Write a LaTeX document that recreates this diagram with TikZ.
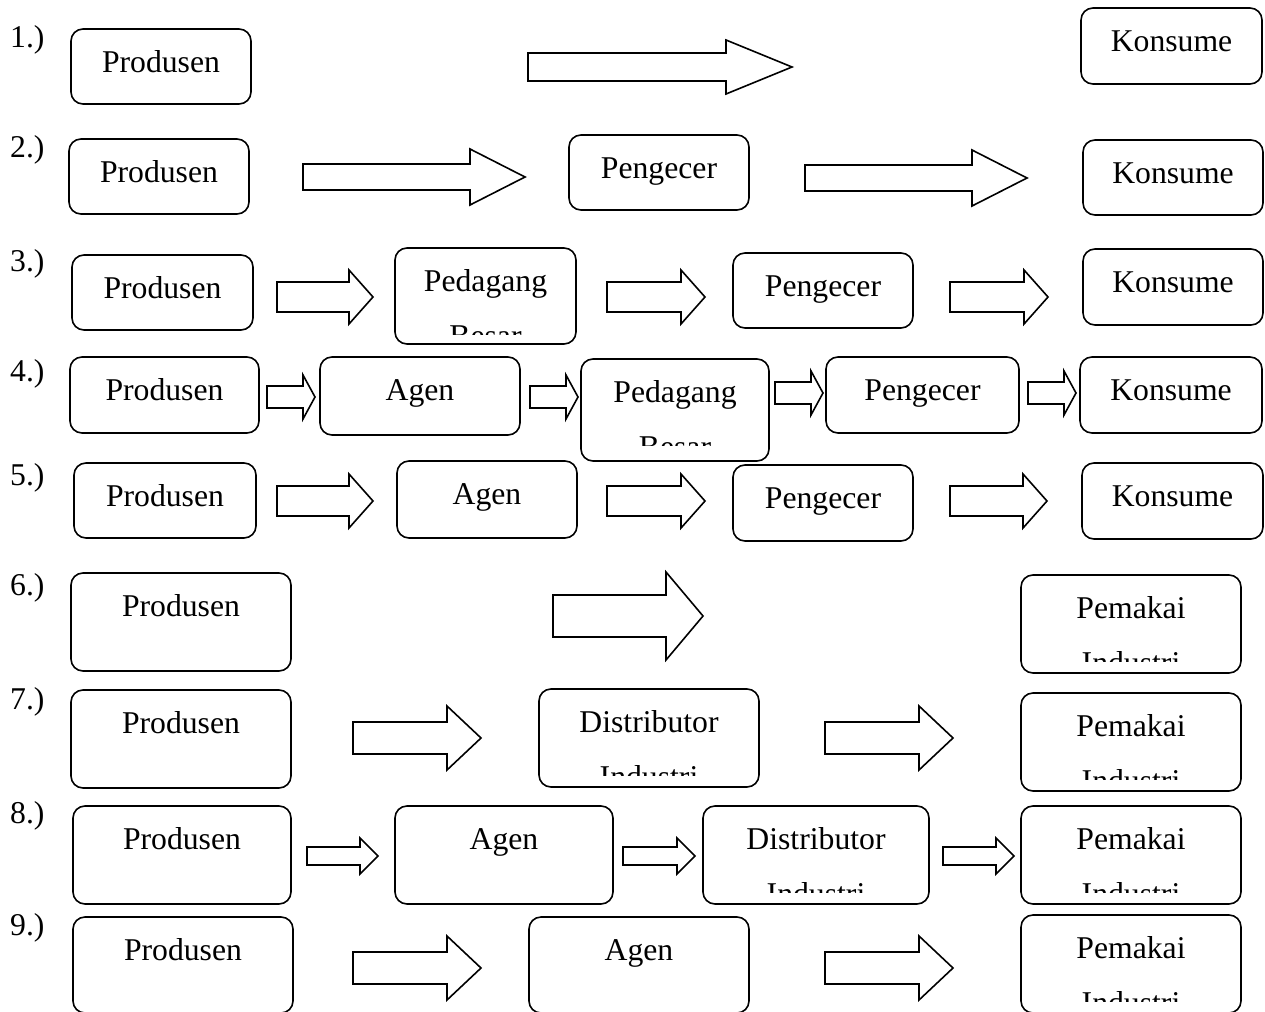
\documentclass[tikz,border=0pt]{standalone}
\usepackage{fontspec}
\setmainfont{Liberation Serif}
\usetikzlibrary{fit,calc}

\tikzset{
  roundbox/.style={draw, line width=1.6pt, rounded corners=12pt, inner sep=0pt},
  boxtext/.style={anchor=base, inner sep=0pt, font=\fontsize{31.7}{38}\selectfont},
  rowlabel/.style={anchor=base west, inner sep=0pt, font=\fontsize{31.7}{38}\selectfont},
  fatarrow/.style={draw, line width=1.6pt, line join=miter, fill=white},
}

% rounded box: name, x1, y1, x2, y2, first line, second line (cut off by the box margin)
\newcommand\flowbox[7]{%
  \node[roundbox, fit={(#2,#3) (#4,#5)}] (#1) {};
  \node[boxtext] (#1-a) at ($(#1.north)+(0,44)$) {#6};
  \if\relax\detokenize{#7}\relax\else
    \begin{scope}
      \clip (#2,#3) rectangle (#4,{#3+86});
      \node[boxtext] (#1-b) at ($(#1.north)+(0,99)$) {#7};
    \end{scope}
  \fi
}

% block arrow: x start, x tip, y centre, shaft half height, head half height, x where the head begins
\newcommand\fatarrow[6]{%
  \draw[fatarrow] (#1,{#3-#4}) -- (#6,{#3-#4}) -- (#6,{#3-#5}) -- (#2,#3)
    -- (#6,{#3+#5}) -- (#6,{#3+#4}) -- (#1,{#3+#4}) -- cycle;
}

\begin{document}
\begin{tikzpicture}[x=1pt,y=-1pt]
\useasboundingbox (0,0) rectangle (1265,1011);

% row labels
\foreach \n/\yb in {1/48,2/158,3/271,4/381,5/485,6/595,7/709,8/823,9/935}
  \node[rowlabel] (lab\n) at (10,\yb) {\n.)};

% 1.)
\flowbox{p1}{71}{29}{251}{104}{Produsen}{}
\fatarrow{528}{792}{67}{14}{27}{726}
\flowbox{k1}{1081}{8}{1262}{84}{Konsume}{}

% 2.)
\flowbox{p2}{69}{139}{249}{214}{Produsen}{}
\fatarrow{303}{525}{177}{13}{28}{470}
\flowbox{e2}{569}{135}{749}{210}{Pengecer}{}
\fatarrow{805}{1027}{178}{13}{28}{972}
\flowbox{k2}{1083}{140}{1263}{215}{Konsume}{}

% 3.)
\flowbox{p3}{72}{255}{253}{330}{Produsen}{}
\fatarrow{277}{373}{297}{15}{27}{349}
\flowbox{b3}{395}{248}{576}{344}{Pedagang}{Besar}
\fatarrow{607}{705}{297}{15}{27}{681}
\flowbox{e3}{733}{253}{913}{328}{Pengecer}{}
\fatarrow{950}{1048}{297}{15}{27}{1024}
\flowbox{k3}{1083}{249}{1263}{325}{Konsume}{}

% 4.)
\flowbox{p4}{70}{357}{259}{433}{Produsen}{}
\fatarrow{267}{315}{397}{11}{22}{303}
\flowbox{a4}{320}{357}{520}{435}{Agen}{}
\fatarrow{530}{578}{397}{11}{22}{566}
\flowbox{b4}{581}{359}{769}{461}{Pedagang}{Besar}
\fatarrow{775}{823}{393}{11}{22}{811}
\flowbox{e4}{826}{357}{1019}{433}{Pengecer}{}
\fatarrow{1028}{1076}{393}{11}{22}{1064}
\flowbox{k4}{1080}{357}{1262}{433}{Konsume}{}

% 5.)
\flowbox{p5}{74}{463}{256}{538}{Produsen}{}
\fatarrow{277}{373}{501}{15}{27}{349}
\flowbox{a5}{397}{461}{577}{538}{Agen}{}
\fatarrow{607}{705}{501}{15}{27}{681}
\flowbox{e5}{733}{465}{913}{541}{Pengecer}{}
\fatarrow{950}{1047}{501}{15}{27}{1023}
\flowbox{k5}{1082}{463}{1263}{539}{Konsume}{}

% 6.)
\flowbox{p6}{71}{573}{291}{671}{Produsen}{}
\fatarrow{553}{703}{616}{21}{44}{666}
\flowbox{u6}{1021}{575}{1241}{673}{Pemakai}{Industri}

% 7.)
\flowbox{p7}{71}{690}{291}{788}{Produsen}{}
\fatarrow{353}{481}{738}{16}{32}{447}
\flowbox{d7}{539}{689}{759}{787}{Distributor}{Industri}
\fatarrow{825}{953}{738}{16}{32}{919}
\flowbox{u7}{1021}{693}{1241}{791}{Pemakai}{Industri}

% 8.)
\flowbox{p8}{73}{806}{291}{904}{Produsen}{}
\fatarrow{307}{378}{856}{9}{18}{360}
\flowbox{a8}{395}{806}{613}{904}{Agen}{}
\fatarrow{623}{695}{856}{9}{18}{677}
\flowbox{d8}{703}{806}{929}{904}{Distributor}{Industri}
\fatarrow{943}{1014}{856}{9}{18}{996}
\flowbox{u8}{1021}{806}{1241}{904}{Pemakai}{Industri}

% 9.)
\flowbox{p9}{73}{917}{293}{1013}{Produsen}{}
\fatarrow{353}{481}{968}{16}{32}{447}
\flowbox{a9}{529}{917}{749}{1013}{Agen}{}
\fatarrow{825}{953}{968}{16}{32}{919}
\flowbox{u9}{1021}{915}{1241}{1013}{Pemakai}{Industri}
\end{tikzpicture}
\end{document}
